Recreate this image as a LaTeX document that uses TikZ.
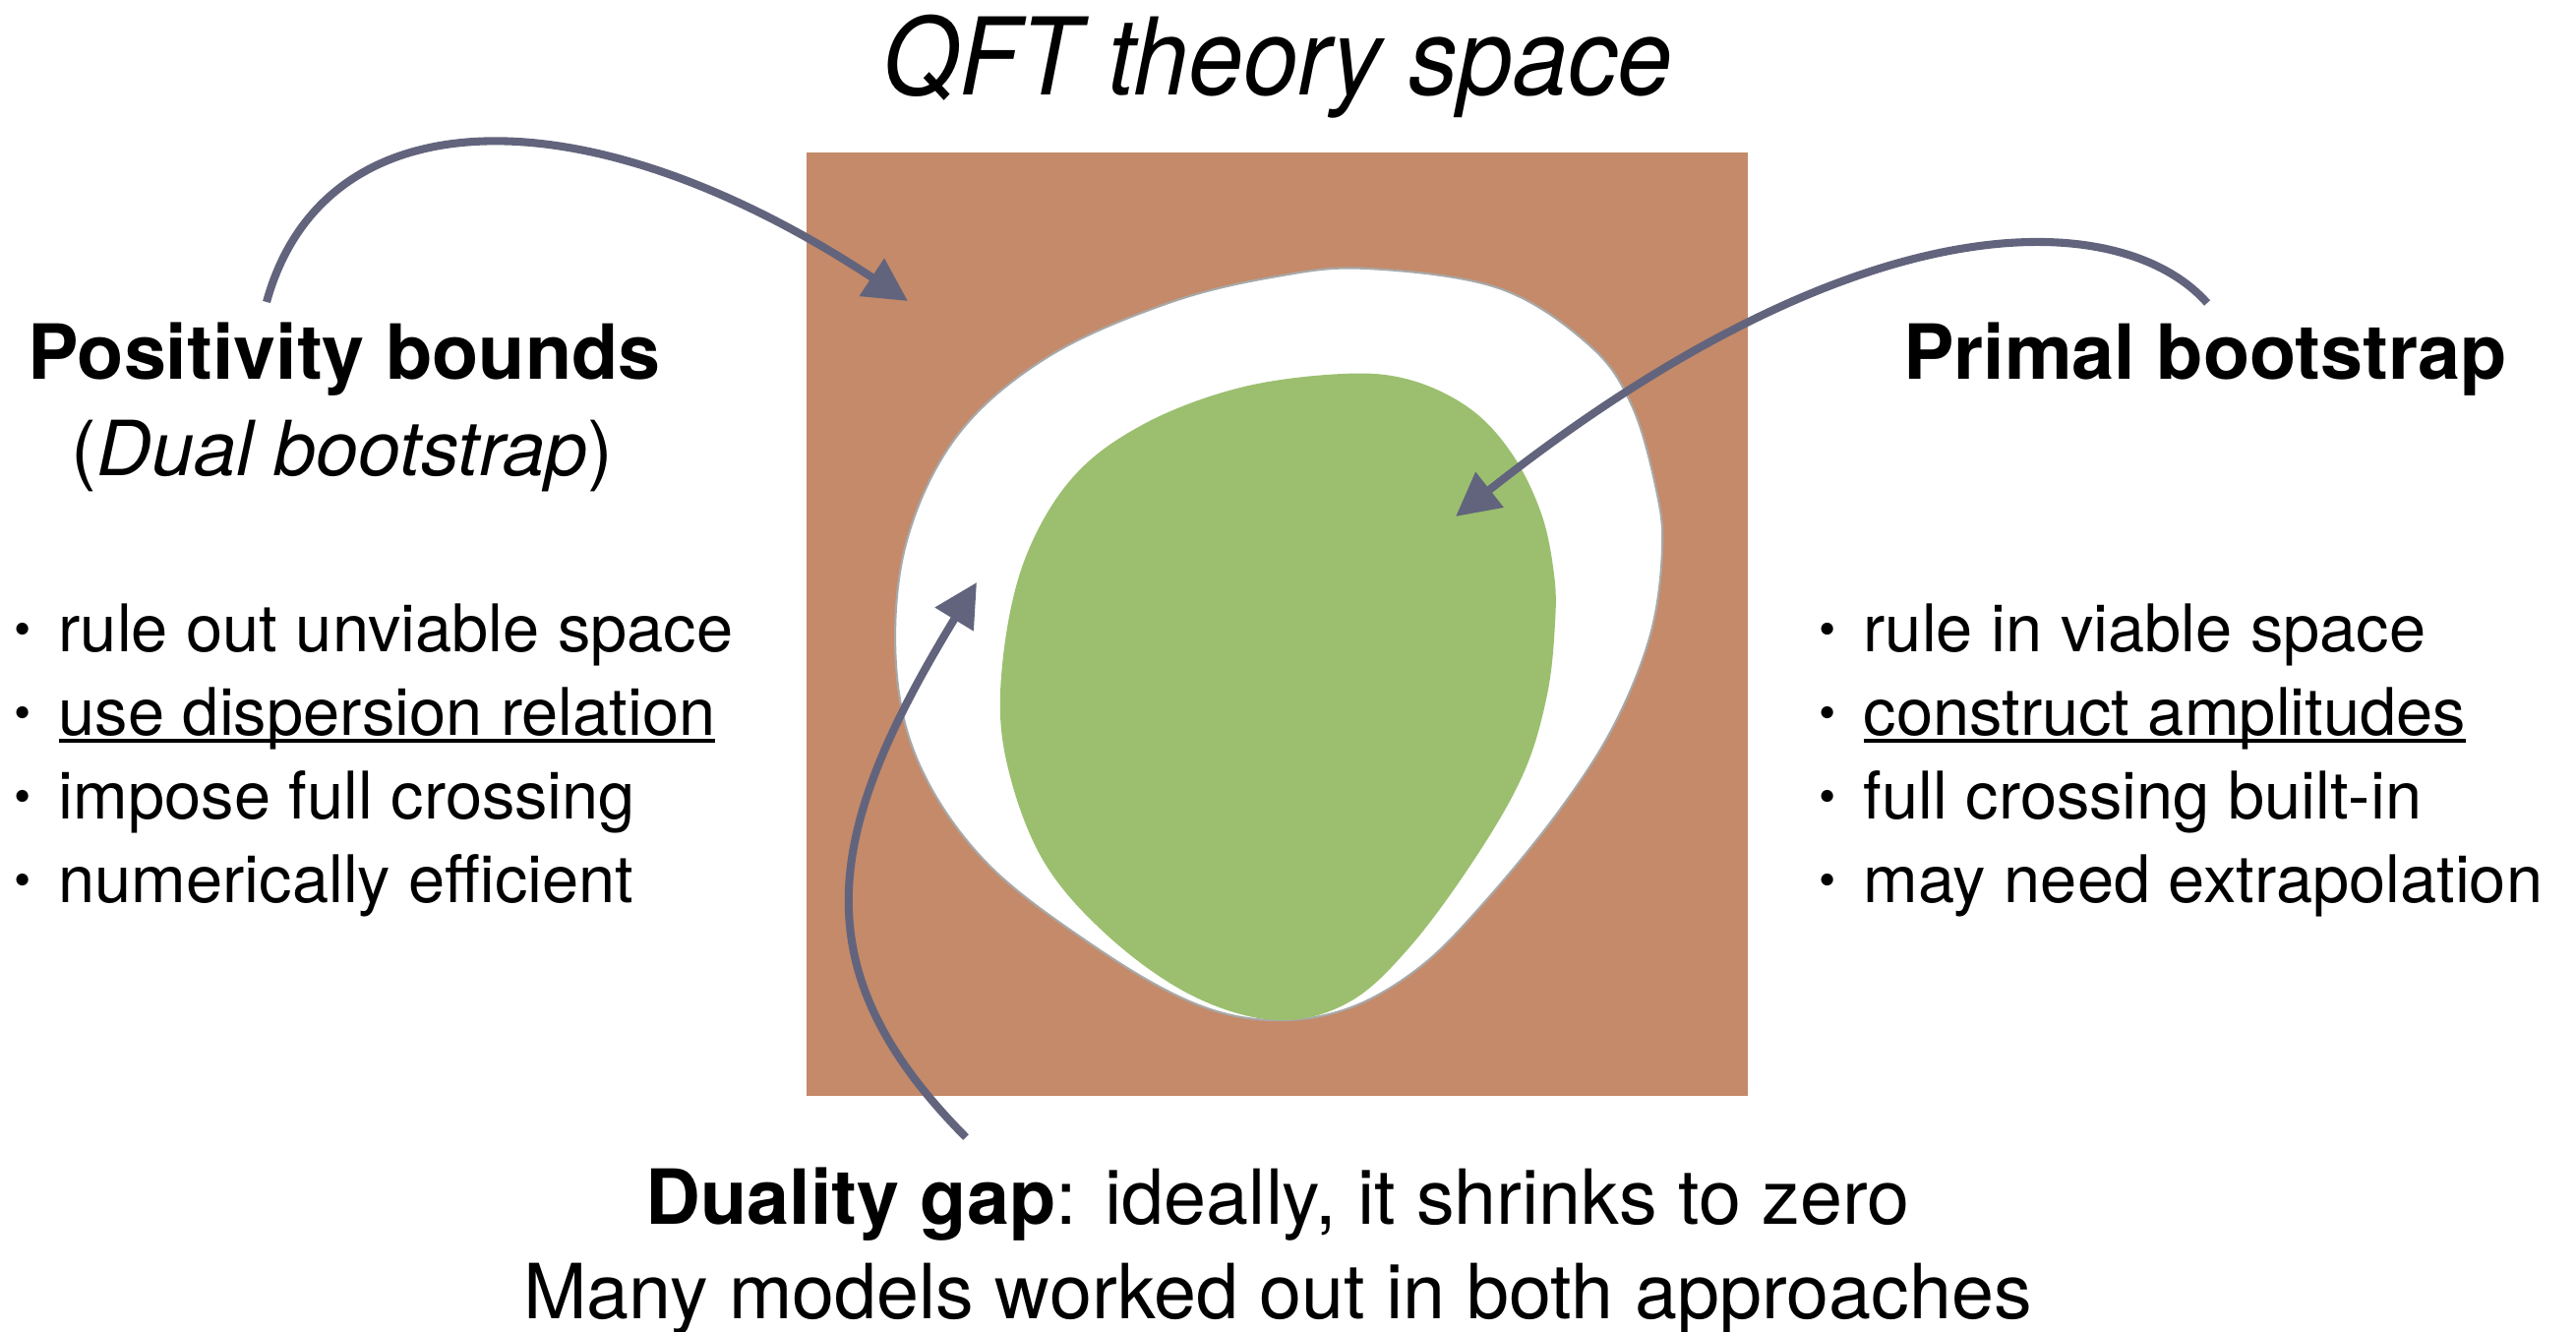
\documentclass[tikz,border=0pt]{standalone}
\usepackage{fontspec}
\setmainfont{TeX Gyre Heros}
\usepackage{tikz}
\usetikzlibrary{arrows.meta}
\definecolor{qtBrown}{HTML}{C48A69}
\definecolor{qtGreen}{HTML}{9BBF6F}
\definecolor{qtArrow}{HTML}{62647D}
\definecolor{qtEdge}{HTML}{A8A8A8}
\newcommand{\bul}{{\fontsize{14}{14}\selectfont\raisebox{1.5pt}{\textbullet}}}
\newcommand{\ulin}[1]{\setbox0\hbox{#1}\rlap{\rule[-2.2pt]{\wd0}{0.95pt}}\box0}
\tikzset{
  qt diagram/.style={line cap=round, line join=round},
  qt title/.style={font=\fontsize{31}{31}\selectfont\itshape, anchor=base, inner sep=0pt},
  qt heading/.style={font=\fontsize{22}{22}\selectfont\bfseries, anchor=base, inner sep=0pt},
  qt sub/.style={font=\fontsize{22}{22}\selectfont, anchor=base, inner sep=0pt},
  qt item/.style={font=\fontsize{19}{19}\selectfont, anchor=base west, inner sep=0pt},
  qt note/.style={font=\fontsize{22}{22}\selectfont, anchor=base, inner sep=0pt},
  qt arrow/.style={-{Triangle[length=4.4mm,width=4.4mm]}, draw=qtArrow,
    line width=2.3pt, line cap=butt},
  qt outer/.style={fill=white, draw=qtEdge, line width=0.6pt},
  qt inner/.style={fill=qtGreen}
}
\begin{document}
\begin{tikzpicture}[qt diagram]
\useasboundingbox (0,0) rectangle (26.19,13.53);
% theory space
\fill[qtBrown] (8.20,2.39) rectangle (17.77,11.98);
\draw[qt outer] plot[smooth cycle, tension=0.6] coordinates {
  (13.90,10.80) (15.24,10.60) (16.16,10.02) (16.59,9.41) (16.84,8.55)
  (16.90,7.94) (16.78,7.08) (16.41,6.16) (15.86,5.30) (15.12,4.39)
  (14.45,3.71) (13.71,3.28) (12.92,3.16) (12.12,3.34) (11.14,3.90)
  (10.04,4.75) (9.36,5.73) (9.11,6.77) (9.21,8.00) (9.73,9.10)
  (10.65,9.90) (11.88,10.45) (12.98,10.72)};
\fill[qt inner] plot[smooth cycle, tension=0.6] coordinates {
  (13.65,9.73) (14.33,9.67) (14.94,9.38) (15.37,8.92) (15.67,8.31)
  (15.80,7.69) (15.81,7.20) (15.73,6.47) (15.49,5.67) (15.00,4.81)
  (14.33,3.90) (13.71,3.34) (12.98,3.16) (12.12,3.41) (11.26,4.02)
  (10.59,4.81) (10.22,5.85) (10.19,6.77) (10.41,7.82) (10.90,8.67)
  (11.63,9.22) (12.61,9.59)};
% labels
\node[qt title] (title) at (12.99,12.56) {\scalebox{0.92}[1]{QFT theory space}};
\node[qt heading] (pos) at (3.50,9.67) {Positivity bounds};
\node[qt sub] (dual) at (3.48,8.69) {(\textit{Dual bootstrap})};
\node[qt heading] (primal) at (22.42,9.67) {Primal bootstrap};
\foreach \y/\txt [count=\i] in {6.91/{rule out unviable space},
    6.06/{\ulin{use dispersion relation}},5.21/{impose full crossing},
    4.36/{numerically efficient}}
  \node[qt item] (left\i) at (0.59,\y) {\llap{\bul\hspace{0.28cm}}\txt};
\foreach \y/\txt [count=\i] in {6.91/{rule in viable space},
    6.06/{\ulin{construct amplitudes}},5.21/{full crossing built-in},
    4.36/{may need extrapolation}}
  \node[qt item] (right\i) at (18.94,\y) {\llap{\bul\hspace{0.28cm}}\txt};
\node[qt note] (gap) at (12.99,1.09) {\textbf{Duality gap}: ideally, it shrinks to zero};
\node[qt note] (models) at (12.99,0.13) {Many models worked out in both approaches};
% arrows
\coordinate (pos tail) at (2.71,10.46);
\coordinate (out tip) at (9.23,10.47);
\coordinate (primal tail) at (22.44,10.45);
\coordinate (in tip) at (14.80,8.28);
\coordinate (gap tail) at (9.82,1.97);
\coordinate (gap tip) at (9.93,7.61);
\draw[qt arrow] (pos tail) .. controls (3.3,12.6) and (6.0,12.6) .. (out tip);
\draw[qt arrow] (primal tail) .. controls (21.6,11.4) and (19.0,11.6) .. (in tip);
\draw[qt arrow] (gap tail) .. controls (8.1,3.7) and (8.4,5.1) .. (gap tip);
\end{tikzpicture}
\end{document}
